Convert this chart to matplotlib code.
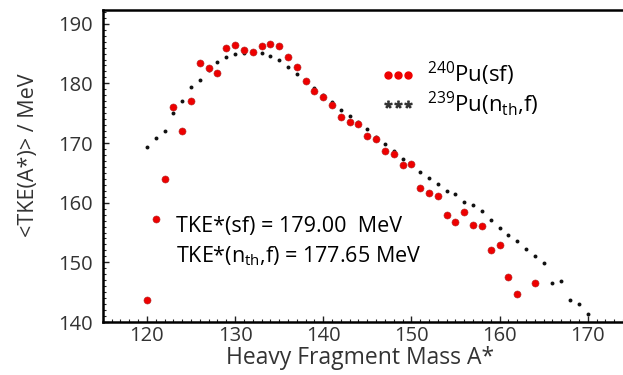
import numpy as np
import matplotlib
matplotlib.use("Agg")
import matplotlib.pyplot as plt
from matplotlib.ticker import MultipleLocator
from matplotlib.lines import Line2D

plt.rcParams['font.family'] = ['Open Sans', 'DejaVu Sans']
plt.rcParams['mathtext.fontset'] = 'custom'
plt.rcParams['mathtext.rm'] = 'Open Sans'
plt.rcParams['mathtext.it'] = 'Open Sans:italic'
plt.rcParams['mathtext.bf'] = 'Open Sans:bold'

# 240Pu(sf) mean TKE per heavy fragment mass
mass_sf = [120, 121, 122, 123, 124, 125, 126, 127, 128, 129, 130, 131, 132, 133,
           134, 135, 136, 137, 138, 139, 140, 141, 142, 143, 144, 145, 146, 147,
           148, 149, 150, 151, 152, 153, 154, 155, 156, 157, 158, 159, 160, 161,
           162, 164]
tke_sf = [143.7, 157.2, 163.9, 176.1, 172.0, 177.0, 183.4, 182.6, 181.7, 185.9,
          186.5, 185.6, 185.2, 186.2, 186.6, 186.3, 184.4, 182.7, 180.4, 178.7,
          177.7, 176.3, 174.3, 173.6, 173.2, 171.2, 170.7, 168.7, 168.1, 166.3,
          166.5, 162.4, 161.6, 161.1, 158.0, 156.8, 158.4, 156.3, 156.1, 152.0,
          152.9, 147.6, 144.7, 146.5]

# 239Pu(nth,f)
mass_nf = list(range(120, 171))
tke_nf = [169.4, 170.9, 172.0, 175.1, 177.0, 179.4, 180.6, 182.2, 183.6, 184.4,
          184.9, 185.1, 185.1, 185.1, 184.6, 183.9, 182.7, 181.5, 180.4, 179.3,
          178.1, 176.9, 175.6, 174.6, 173.5, 172.4, 171.0, 169.8, 168.6, 167.4,
          166.3, 165.2, 164.2, 163.2, 162.0, 161.4, 160.2, 159.6, 158.6, 157.1,
          155.7, 154.6, 153.5, 152.3, 151.1, 149.9, 146.5, 146.9, 143.7, 143.1,
          141.3]

x_ticks = [120, 130, 140, 150, 160, 170]
y_ticks = [140, 150, 160, 170, 180, 190]

fig = plt.figure(figsize=(6.23, 3.75), dpi=100)
ax = fig.add_axes([0.165, 0.1413, 0.835, 0.832])

ax.scatter(mass_nf, tke_nf, s=8, color='#111111', zorder=2, linewidths=0)
ax.scatter(mass_sf, tke_sf, s=26, color='#ee0000', edgecolors='#b03030',
           linewidths=0.4, zorder=3)

ax.set_xlim(115, 174)
ax.set_ylim(140, 192.3)
ax.set_xticks(x_ticks)
ax.set_yticks(y_ticks)
ax.xaxis.set_minor_locator(MultipleLocator(1))
ax.yaxis.set_minor_locator(MultipleLocator(1))
ax.tick_params(which='both', direction='in', color='#222222', labelcolor='#333333',
               labelsize=14.5)
ax.tick_params(which='major', length=4, width=1)
ax.tick_params(which='minor', length=2, width=0.8)
ax.tick_params(axis='y', pad=7)
ax.tick_params(axis='x', pad=3)
for side in ['left', 'bottom', 'top']:
    ax.spines[side].set_linewidth(1.8)
ax.spines['right'].set_visible(False)

fig.text(0.578, 0.046, 'Heavy Fragment Mass A*', ha='center', va='center',
         fontsize=16.5, color='#333333')
fig.text(0.045, 0.585, '<TKE(A*)> / MeV', ha='center', va='center',
         rotation=90, fontsize=15.5, color='#333333')

ax.text(0.14, 0.305, 'TKE*(sf) = 179.00  MeV', transform=ax.transAxes,
        fontsize=15.5, va='center')
ax.text(0.14, 0.21, r'TKE*(n$_{\mathrm{th}}$,f) = 177.65 MeV',
        transform=ax.transAxes, fontsize=15.5, va='center')

handles = [Line2D([], [], ls='none', marker='o', ms=5, color='#ee0000'),
           Line2D([], [], ls='none', marker='$*$', ms=5, color='#333333')]
labels = [r'$^{240}$Pu(sf)', r'$^{239}$Pu(n$_{\mathrm{th}}$,f)']
ax.legend(handles, labels, numpoints=3, loc='upper left',
          bbox_to_anchor=(0.497, 0.904), frameon=False, fontsize=16,
          handlelength=1.5, handletextpad=0.55, labelspacing=0.05,
          borderpad=0.4)

fig.savefig('out.png', dpi=100)
